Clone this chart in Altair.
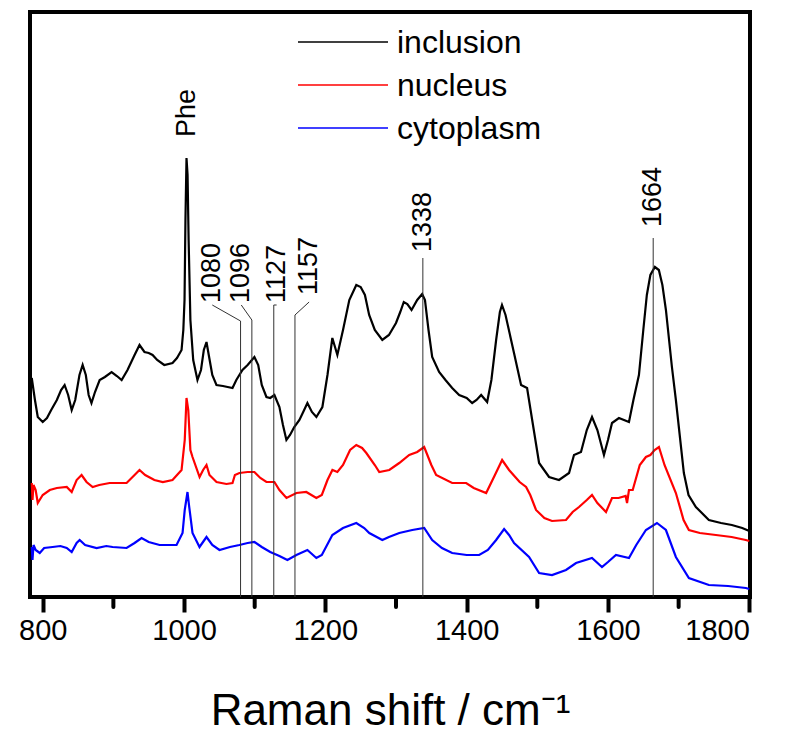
import altair as alt
import pandas as pd

# ---- data (wavenumber cm^-1, intensity a.u.) ----
inclusion_x = [784.5, 789, 793, 800, 806, 812, 820, 826, 831, 836, 841, 846, 852, 856.5, 861, 865, 869, 874, 880.6, 888, 897.5, 905, 911.7, 920, 930, 937, 944, 950, 955.5, 962, 972, 983.7, 990, 996.5, 999, 1000.7, 1002, 1003.5, 1005, 1006.5, 1009, 1013, 1019, 1024, 1028, 1031.8, 1035, 1040, 1045.9, 1055, 1068.6, 1074, 1082.7, 1090, 1099.6, 1105, 1110, 1116.6, 1122, 1127.9, 1135, 1140, 1144.9, 1150, 1156, 1163.3, 1170, 1174.6, 1181, 1187.3, 1195.8, 1203, 1209.9, 1217, 1225, 1233.9, 1243.8, 1250, 1256, 1262, 1270, 1280.6, 1290, 1300, 1306, 1311, 1316, 1322, 1330, 1337, 1341, 1346, 1351.2, 1361, 1370, 1379.5, 1389.4, 1400, 1407.8, 1414, 1420.5, 1429, 1435, 1441.7, 1447, 1450, 1455, 1467, 1477, 1485.5, 1495, 1502.5, 1516.6, 1530.7, 1544.9, 1551.9, 1561.8, 1570, 1577.4, 1585, 1594.3, 1600, 1605.7, 1615.5, 1629.7, 1636, 1643.8, 1650, 1655, 1660, 1666.4, 1672, 1677, 1682, 1690.5, 1696.1, 1707.4, 1714, 1724.4, 1742.8, 1760, 1775.3, 1790, 1800]
inclusion_py = [378, 400, 417, 422, 418, 410, 400, 390, 385, 395, 410, 400, 375, 365, 375, 395, 403, 392, 380, 377, 372, 376, 380, 370, 355, 345, 352, 353, 355, 360, 365, 363, 358, 350, 330, 300, 220, 158, 175, 240, 320, 360, 380, 370, 350, 342, 355, 375, 385, 386, 388, 380, 370, 365, 357, 365, 385, 397, 398, 395, 407, 425, 440, 435, 427, 420, 410, 403, 412, 417, 407, 375, 338, 355, 330, 300, 285, 287, 295, 315, 330, 340, 335, 323, 312, 302, 304, 310, 300, 294, 300, 330, 357, 372, 380, 388, 395, 398, 403, 400, 395, 402, 380, 340, 312, 305, 315, 353, 385, 388, 430, 463, 477, 480, 473, 455, 452, 430, 417, 430, 455, 440, 423, 418, 422, 400, 375, 330, 295, 275, 267, 270, 285, 310, 367, 400, 473, 495, 507, 520, 523, 525, 528, 531]

nucleus_x = [784.5, 785.5, 787, 790, 793, 800, 810, 820, 834, 841, 848, 855, 862, 870.7, 880, 894.7, 910, 918.7, 930, 937, 945, 958, 970, 983.7, 996.5, 1001, 1003.5, 1006, 1009, 1012, 1022, 1027, 1031.8, 1036, 1046, 1060, 1068.6, 1072, 1078.4, 1090, 1099.6, 1108, 1116.6, 1127.9, 1135, 1145, 1159, 1173, 1187.3, 1195, 1203, 1210, 1217, 1225, 1235, 1243.8, 1252, 1258, 1270, 1276.3, 1290.5, 1304.6, 1318.7, 1330, 1339.9, 1350, 1356.8, 1379.5, 1399.3, 1410, 1427.6, 1440, 1450.2, 1460, 1475, 1484.1, 1490, 1498.2, 1510, 1520.8, 1540.6, 1550, 1559, 1570, 1577.4, 1585, 1597.2, 1605.7, 1615, 1625, 1627, 1629.7, 1635, 1645, 1653.7, 1660, 1666, 1672.1, 1680, 1696.1, 1707, 1714.5, 1730, 1752.7, 1775, 1795, 1800]
nucleus_py = [483, 500, 485, 490, 503, 495, 490, 488, 487, 492, 480, 475, 482, 487, 485, 483, 483, 483, 475, 470, 475, 480, 482, 480, 470, 440, 398, 410, 450, 457, 477, 470, 465, 475, 482, 484, 483, 475, 473, 472, 472, 478, 482, 482, 490, 498, 493, 492, 498, 495, 480, 470, 472, 465, 450, 445, 448, 453, 465, 472, 470, 463, 455, 452, 447, 465, 475, 483, 483, 488, 493, 475, 460, 470, 482, 487, 495, 510, 518, 521, 520, 512, 507, 500, 495, 503, 512, 498, 498, 496, 503, 490, 490, 465, 457, 455, 450, 447, 465, 493, 520, 530, 533, 535, 537, 540, 541]

cytoplasm_x = [784.5, 785.5, 787, 790, 795.8, 802, 814, 825, 834, 841, 848, 852.3, 860, 876.3, 890, 898.9, 918.7, 930, 939.9, 950, 965.4, 989.4, 997.9, 1001, 1004.9, 1007, 1012, 1021.9, 1031.8, 1040, 1050.2, 1065, 1078.4, 1090, 1099.6, 1110, 1122, 1135, 1146.3, 1159, 1174.6, 1187.3, 1195, 1209.9, 1225, 1243.8, 1255, 1262.2, 1280.6, 1290, 1304.6, 1323, 1339.9, 1351.2, 1365, 1379.5, 1400, 1417.7, 1430, 1441.7, 1453, 1460, 1467.1, 1488.3, 1502.5, 1520.8, 1540.6, 1554.8, 1577.4, 1591.5, 1600, 1611.3, 1629.7, 1640, 1653.7, 1669.3, 1682, 1696.1, 1714.5, 1742.8, 1770, 1795.1, 1800]
cytoplasm_py = [547, 560, 545, 550, 553, 548, 547, 546, 548, 552, 543, 540, 545, 548, 546, 547, 548, 543, 538, 542, 545, 545, 533, 510, 492, 505, 533, 547, 537, 545, 550, 547, 545, 543, 542, 547, 552, 556, 560, 555, 550, 558, 555, 535, 528, 523, 528, 533, 540, 537, 533, 530, 528, 540, 548, 553, 555, 555, 550, 540, 529, 535, 543, 557, 573, 575, 570, 563, 558, 567, 562, 555, 558, 545, 530, 523, 530, 557, 578, 585, 586, 588, 589]

series_names = ["inclusion", "nucleus", "cytoplasm"]
series_colors = ["#000000", "#ff0000", "#0000ff"]

# peak annotations
peak_pos = [1080, 1096, 1127, 1157, 1338, 1664]
peak_line_top = [276, 277, 292, 282, 339, 359]
peak_label_x = [1040, 1081, 1131, 1177, 1338, 1664]
peak_label_y = [294, 294, 294, 302, 345, 370]
conn_y = [292, 292, 292, 295, 339, 359]
phe_x = [1003.5]
phe_y = [460]
phe_text = ["Phe"]

major_ticks = [800, 1000, 1200, 1400, 1600, 1800]
minor_ticks = [900, 1100, 1300, 1500, 1700]

BASE = 597  # converts read values into intensity units


def to_df(name, xs, pys):
    return pd.DataFrame({"shift": xs, "intensity": [BASE - p for p in pys], "series": name})


spec = pd.concat([
    to_df("inclusion", inclusion_x, inclusion_py),
    to_df("nucleus", nucleus_x, nucleus_py),
    to_df("cytoplasm", cytoplasm_x, cytoplasm_py),
], ignore_index=True)

ann = pd.DataFrame({
    "pos": peak_pos,
    "top": peak_line_top,
    "zero": [0] * len(peak_pos),
    "lx": peak_label_x,
    "ly": peak_label_y,
    "cy": conn_y,
    "label": [str(p) for p in peak_pos],
})
phe = pd.DataFrame({"x": phe_x, "y": phe_y, "t": phe_text})
minor = pd.DataFrame({"m": minor_ticks})

xscale = alt.Scale(domain=[782, 1801], nice=False, zero=False)
yscale = alt.Scale(domain=[0, 585], nice=False, zero=False)
cscale = alt.Scale(domain=series_names, range=series_colors)

xaxis = alt.Axis(
    values=major_ticks, format="d", labelFontSize=29, labelFont="Liberation Sans",
    labelColor="black", tickSize=15, tickWidth=4, tickColor="black",
    domain=False, grid=False, labelPadding=4,
    title="Raman shift / cm⁻¹", titleFontSize=44, titleFont="Liberation Sans",
    titleFontWeight="normal", titleColor="black", titlePadding=44,
)

lines = alt.Chart(spec).mark_line(strokeWidth=2.2).encode(
    x=alt.X("shift:Q", scale=xscale, axis=xaxis),
    y=alt.Y("intensity:Q", scale=yscale, axis=None),
    color=alt.Color("series:N", scale=cscale, legend=None),
)

vlines = alt.Chart(ann).mark_rule(color="#333333", strokeWidth=1).encode(
    x=alt.X("pos:Q"),
    y=alt.Y("top:Q"),
    y2="zero:Q",
)
conns = alt.Chart(ann).mark_rule(color="#333333", strokeWidth=1).encode(
    x="pos:Q", x2="lx:Q", y="top:Q", y2="cy:Q",
)
labels = alt.Chart(ann).mark_text(
    angle=270, align="left", baseline="middle", fontSize=27,
    font="Liberation Sans", color="black",
).encode(x="lx:Q", y="ly:Q", text="label:N")

phe_label = alt.Chart(phe).mark_text(
    angle=270, align="left", baseline="middle", fontSize=27,
    font="Liberation Sans", color="black",
).encode(x="x:Q", y="y:Q", text="t:N")

minor_ticks_mark = alt.Chart(minor).mark_rule(
    color="black", strokeWidth=4, strokeCap="round",
).encode(x="m:Q", y=alt.value(587), y2=alt.value(595))

# legend built from the series list (placement in pixels inside the plot)
legend_layers = []
for i, (name, col) in enumerate(zip(series_names, series_colors)):
    row_y = 30 + 43 * i
    src = alt.Chart(pd.DataFrame({"s": [name]}))
    legend_layers.append(
        src.mark_rule(color=col, strokeWidth=1.6).encode(
            x=alt.value(268), x2=alt.value(358), y=alt.value(row_y)
        )
    )
    legend_layers.append(
        src.mark_text(
            align="left", baseline="middle", fontSize=32,
            font="Liberation Sans", color="black",
        ).encode(x=alt.value(367), y=alt.value(row_y + 1), text="s:N")
    )

chart = alt.layer(
    lines, vlines, conns, labels, phe_label, minor_ticks_mark, *legend_layers
).properties(
    width=720, height=585,
    autosize=alt.AutoSizeParams(type="none"),
    padding={"left": 22, "top": 4, "right": 40, "bottom": 140},
).configure_view(
    stroke="black", strokeWidth=4,
)

chart.save("out.html", embed_options={"renderer": "svg", "actions": False})
